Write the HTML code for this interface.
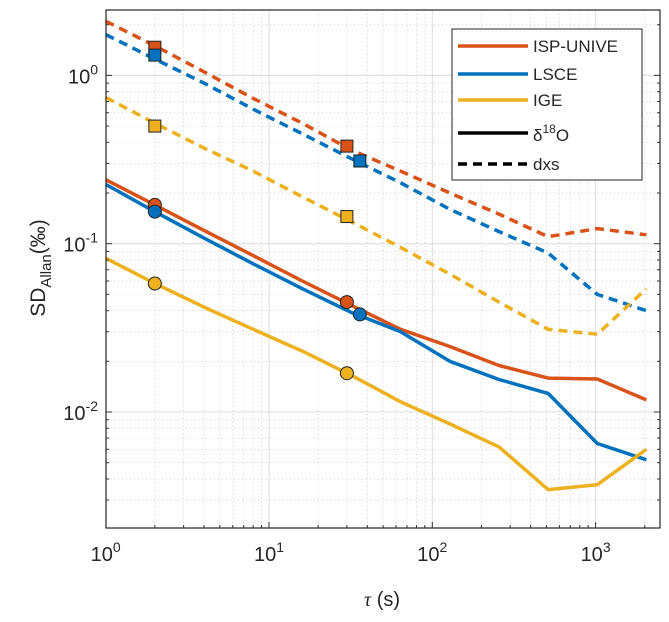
<!DOCTYPE html>
<html><head><meta charset="utf-8"><style>
body{margin:0;background:#fff}
svg text{font-family:"Liberation Sans",sans-serif;fill:#262626}
</style></head><body>
<svg id="chart" width="669" height="617" xmlns="http://www.w3.org/2000/svg">
<g id="grid"></g>
<g id="series"></g>
<g id="axes"></g>
</svg>
<script>
const taus=[1,2,4,8,16,32,64,128,256,512,1024,2048];
const ispDxs=[2.1,1.5,1.05,0.73,0.52,0.36,0.27,0.2,0.15,0.11,0.123,0.113];
const lsceDxs=[1.75,1.25,0.9,0.63,0.45,0.32,0.23,0.16,0.118,0.088,0.05,0.04];
const igeDxs=[0.74,0.52,0.37,0.27,0.19,0.135,0.095,0.066,0.045,0.031,0.029,0.054];
const ispO18=[0.24,0.17,0.12,0.085,0.06,0.043,0.031,0.0245,0.0189,0.0159,0.0157,0.0118];
const lsceO18=[0.225,0.155,0.108,0.076,0.054,0.039,0.03,0.02,0.0156,0.0129,0.0065,0.0052];
const igeO18=[0.082,0.058,0.042,0.031,0.023,0.0165,0.0115,0.0085,0.0062,0.00346,0.0037,0.006];
const sqX=[[2,30],[2,36],[2,30]];
const sqY=[[1.47,0.38],[1.32,0.31],[0.5,0.145]];
const ciX=[[2,30],[2,36],[2,30]];
const ciY=[[0.17,0.045],[0.155,0.038],[0.058,0.017]];
const xTickExp=[0,1,2,3];
const yTickExp=[0,-1,-2];
const names=['ISP-UNIVE','LSCE','IGE'];
const colors=['#D95319','#0072BD','#EDB120'];

const L=106,R=660,T=10,B=528;
const X0=105.7,XD=163.3,Y0=75.4,YD=168.3;
const xs=v=>X0+Math.log10(v)*XD;
const ys=v=>Y0-Math.log10(v)*YD;
const NS='http://www.w3.org/2000/svg';
function mk(tag,attrs,parent){const e=document.createElementNS(NS,tag);for(const k in attrs)e.setAttribute(k,attrs[k]);parent.appendChild(e);return e;}
const grid=document.getElementById('grid'),ser=document.getElementById('series'),ax=document.getElementById('axes');
mk('rect',{x:L,y:T,width:R-L,height:B-T,fill:'#fff'},grid);
// grid
for(let d=0;d<=3;d++)for(let m=1;m<=9;m++){const v=m*Math.pow(10,d);const x=xs(v);if(x<L||x>R)continue;
 const g=mk('line',{x1:x,x2:x,y1:T,y2:B,stroke:m==1?'#dcdcdc':'#d0d0d0','stroke-width':1,'stroke-dasharray':m==1?'':'1,3'},grid);
 
 mk('line',{x1:x,x2:x,y1:B,y2:B-(m==1?6:3),stroke:'#333'},ax);}
for(let d=-3;d<=0;d++)for(let m=1;m<=9;m++){const v=m*Math.pow(10,d);const y=ys(v);if(y<T||y>B)continue;
 const g=mk('line',{x1:L,x2:R,y1:y,y2:y,stroke:m==1?'#dcdcdc':'#d0d0d0','stroke-width':1,'stroke-dasharray':m==1?'':'1,3'},grid);
 
 mk('line',{x1:L,x2:L+(m==1?6:3),y1:y,y2:y,stroke:'#333'},ax);
 mk('line',{x1:R,x2:R-(m==1?6:3),y1:y,y2:y,stroke:'#333'},ax);}
// series
const dxs=[ispDxs,lsceDxs,igeDxs],o18=[ispO18,lsceO18,igeO18];
function line(vals,c,dash,name){const pts=taus.map((t,i)=>xs(t).toFixed(1)+','+ys(vals[i]).toFixed(1)).join(' ');
 const p=mk('polyline',{points:pts,fill:'none',stroke:c,'stroke-width':3.5,'stroke-linejoin':'round','stroke-dasharray':dash},ser);
 }
for(let i=0;i<3;i++){line(dxs[i],colors[i],'9,6',names[i].toLowerCase()+'-dxs-line');line(o18[i],colors[i],'',names[i].toLowerCase()+'-d18o-line');}
for(let i=0;i<3;i++)for(let j=0;j<2;j++){
 const s=mk('rect',{x:xs(sqX[i][j])-6,y:ys(sqY[i][j])-6,width:12,height:12,fill:colors[i],stroke:'#222','stroke-width':1},ser);
 
 const c=mk('circle',{cx:xs(ciX[i][j]),cy:ys(ciY[i][j]),r:6.5,fill:colors[i],stroke:'#222','stroke-width':1},ser);
 }
// axes box
mk('rect',{x:L,y:T,width:R-L,height:B-T,fill:'none',stroke:'#262626','stroke-width':1.2},ax);
for(const e of xTickExp){const t=mk('text',{x:xs(Math.pow(10,e)),y:561,'font-size':20,'text-anchor':'middle'},ax);
 
 t.innerHTML='10<tspan dy="-9" font-size="14">'+e+'</tspan>';}
for(const e of yTickExp){const t=mk('text',{x:L-8,y:ys(Math.pow(10,e))+8,'font-size':20,'text-anchor':'end'},ax);
 
 t.innerHTML='10<tspan dy="-9" font-size="14">'+e+'</tspan>';}
</script>
<svg style="position:absolute;left:0;top:0" width="669" height="617">
<text x="382" y="606" font-size="20" text-anchor="middle"><tspan font-family="Liberation Serif" font-style="italic">τ</tspan> (s)</text>
<text transform="translate(45,268) rotate(-90)" font-size="21" text-anchor="middle">SD<tspan font-size="15" dy="6">Allan</tspan><tspan dy="-6">(‰)</tspan></text>
<g>
<rect x="452" y="29" width="190" height="151" fill="#fff" stroke="#262626" stroke-width="1"/>
<line x1="458" y1="46" x2="528" y2="46" stroke="#D95319" stroke-width="3.5"/>
<text x="533" y="52" font-size="17">ISP-UNIVE</text>
<line x1="458" y1="74" x2="528" y2="74" stroke="#0072BD" stroke-width="3.5"/>
<text x="533" y="80" font-size="17">LSCE</text>
<line x1="458" y1="100" x2="528" y2="100" stroke="#EDB120" stroke-width="3.5"/>
<text x="533" y="106" font-size="17">IGE</text>
<line x1="458" y1="133" x2="528" y2="133" stroke="#000" stroke-width="3.5"/>
<text x="533" y="141" font-size="17">δ<tspan dy="-8" font-size="12">18</tspan><tspan dy="8">O</tspan></text>
<line x1="458" y1="164" x2="528" y2="164" stroke="#000" stroke-width="3.5" stroke-dasharray="9,6"/>
<text x="533" y="170" font-size="17">dxs</text>
</g>
</svg>
</body></html>
